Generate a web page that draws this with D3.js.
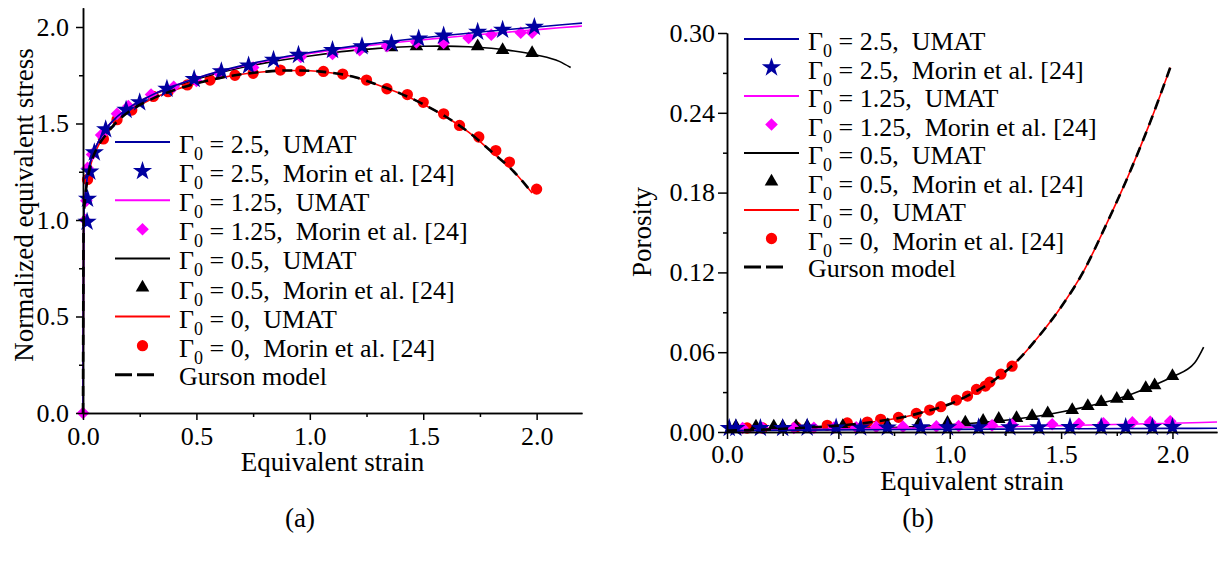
<!DOCTYPE html>
<html>
<head>
<meta charset="utf-8">
<script src="https://cdn.jsdelivr.net/npm/d3@7"></script>
<style>
  body { margin: 0; background: #fff; }
  text { font-family: "Liberation Serif", "Times New Roman", serif; fill: #000; }
</style>
</head>
<body>
<svg width="1224" height="564"></svg>
<script>
// ---- (a) normalized equivalent stress vs equivalent strain ----
const strainG25 = [0, 0.003, 0.01, 0.02, 0.04, 0.07, 0.1, 0.15, 0.2, 0.3, 0.4, 0.5, 0.6, 0.7, 0.8, 0.9, 1.0, 1.1, 1.2, 1.3, 1.4, 1.5, 1.6, 1.7, 1.8, 1.9, 2.0, 2.1, 2.2];
const stressG25 = [0, 1.0, 1.13, 1.23, 1.33, 1.41, 1.47, 1.535, 1.58, 1.645, 1.695, 1.735, 1.77, 1.80, 1.825, 1.848, 1.868, 1.886, 1.902, 1.917, 1.931, 1.944, 1.956, 1.968, 1.979, 1.99, 2.0, 2.01, 2.02];
const strainG125 = [0, 0.003, 0.01, 0.02, 0.04, 0.07, 0.1, 0.15, 0.2, 0.3, 0.4, 0.5, 0.6, 0.7, 0.8, 0.9, 1.0, 1.1, 1.2, 1.3, 1.4, 1.5, 1.6, 1.7, 1.8, 1.9, 2.0, 2.1, 2.2];
const stressG125 = [0, 1.0, 1.13, 1.23, 1.33, 1.41, 1.47, 1.535, 1.58, 1.645, 1.695, 1.735, 1.768, 1.797, 1.822, 1.844, 1.863, 1.880, 1.895, 1.909, 1.922, 1.934, 1.945, 1.956, 1.966, 1.976, 1.986, 1.996, 2.005];
const strainG05 = [0, 0.003, 0.01, 0.02, 0.04, 0.07, 0.1, 0.15, 0.2, 0.3, 0.4, 0.5, 0.6, 0.7, 0.8, 0.9, 1.0, 1.1, 1.2, 1.3, 1.4, 1.5, 1.6, 1.7, 1.8, 1.9, 2.0, 2.1, 2.15];
const stressG05 = [0, 1.0, 1.13, 1.23, 1.33, 1.41, 1.47, 1.535, 1.58, 1.645, 1.69, 1.73, 1.762, 1.79, 1.813, 1.833, 1.85, 1.866, 1.88, 1.889, 1.896, 1.90, 1.901, 1.898, 1.89, 1.876, 1.855, 1.822, 1.79];
const strainG0 = [0, 0.003, 0.01, 0.02, 0.04, 0.07, 0.1, 0.15, 0.2, 0.3, 0.4, 0.5, 0.6, 0.7, 0.8, 0.9, 1.0, 1.1, 1.2, 1.3, 1.4, 1.5, 1.6, 1.7, 1.8, 1.9, 1.98];
const stressG0 = [0, 1.0, 1.12, 1.21, 1.31, 1.39, 1.44, 1.51, 1.56, 1.625, 1.672, 1.708, 1.735, 1.755, 1.768, 1.775, 1.773, 1.762, 1.74, 1.70, 1.655, 1.60, 1.535, 1.455, 1.355, 1.25, 1.14];
const strainGurson = [0, 0.003, 0.01, 0.02, 0.04, 0.07, 0.1, 0.15, 0.2, 0.3, 0.4, 0.5, 0.6, 0.7, 0.8, 0.9, 1.0, 1.1, 1.2, 1.3, 1.4, 1.5, 1.6, 1.7, 1.8, 1.9, 1.98];
const stressGurson = [0, 1.0, 1.12, 1.21, 1.31, 1.39, 1.44, 1.51, 1.56, 1.625, 1.672, 1.708, 1.735, 1.755, 1.768, 1.775, 1.773, 1.762, 1.74, 1.70, 1.655, 1.60, 1.535, 1.455, 1.355, 1.25, 1.14];

// Morin et al. [24] points, panel (a)
const starStrainA = [0.018, 0.02, 0.03, 0.05, 0.10, 0.19, 0.25, 0.37, 0.49, 0.61, 0.73, 0.84, 0.95, 1.10, 1.23, 1.36, 1.48, 1.59, 1.74, 1.85, 1.99];
const starStressA = [0.99, 1.11, 1.25, 1.35, 1.47, 1.57, 1.61, 1.68, 1.73, 1.77, 1.80, 1.83, 1.855, 1.88, 1.90, 1.915, 1.94, 1.955, 1.975, 1.985, 2.0];
const diamondStrainA = [0, 0.01, 0.015, 0.02, 0.04, 0.08, 0.15, 0.2, 0.3, 0.4, 0.5, 0.6, 0.75, 0.96, 1.1, 1.22, 1.34, 1.47, 1.59, 1.70, 1.80, 1.93, 1.98];
const diamondStressA = [0, 1.0, 1.1, 1.27, 1.34, 1.44, 1.55, 1.59, 1.65, 1.69, 1.72, 1.76, 1.79, 1.845, 1.86, 1.88, 1.90, 1.92, 1.917, 1.943, 1.96, 1.97, 1.97];
const triangleStrainA = [1.23, 1.36, 1.47, 1.59, 1.74, 1.85, 1.98];
const triangleStressA = [1.89, 1.895, 1.90, 1.90, 1.90, 1.88, 1.865];
const circleStrainA = [0.02, 0.09, 0.15, 0.215, 0.31, 0.375, 0.46, 0.56, 0.67, 0.75, 0.87, 0.96, 1.06, 1.145, 1.25, 1.34, 1.43, 1.50, 1.59, 1.66, 1.745, 1.82, 1.88, 2.0];
const circleStressA = [1.21, 1.42, 1.52, 1.57, 1.64, 1.665, 1.70, 1.725, 1.75, 1.76, 1.777, 1.773, 1.77, 1.756, 1.725, 1.68, 1.65, 1.61, 1.55, 1.49, 1.43, 1.36, 1.30, 1.16];

// ---- (b) porosity vs equivalent strain ----
const poroStrainG25 = [0, 0.5, 1.0, 1.5, 2.0, 2.2];
const poroG25 = [0.001, 0.0016, 0.002, 0.0024, 0.0027, 0.0028];
const poroStrainG125 = [0, 0.5, 1.0, 1.5, 2.0, 2.2];
const poroG125 = [0.001, 0.0022, 0.0033, 0.0048, 0.0066, 0.0075];
const poroStrainG05 = [0, 0.2, 0.4, 0.6, 0.8, 1.0, 1.1, 1.2, 1.3, 1.4, 1.5, 1.6, 1.7, 1.8, 1.9, 2.0, 2.1, 2.14];
const poroG05 = [0.001, 0.0015, 0.002, 0.0028, 0.0038, 0.0055, 0.0066, 0.008, 0.0098, 0.012, 0.015, 0.0185, 0.0225, 0.0275, 0.034, 0.0415, 0.052, 0.0638];
const poroStrainG0 = [0, 0.1, 0.2, 0.3, 0.4, 0.5, 0.6, 0.7, 0.8, 0.9, 1.0, 1.1, 1.2, 1.3, 1.4, 1.5, 1.6, 1.7, 1.8, 1.9, 1.99];
const poroG0 = [0.001, 0.0015, 0.002, 0.0028, 0.0037, 0.0048, 0.0064, 0.0086, 0.0115, 0.0158, 0.021, 0.029, 0.039, 0.053, 0.072, 0.094, 0.1205, 0.155, 0.192, 0.233, 0.274];
const poroStrainGurson = [0, 0.1, 0.2, 0.3, 0.4, 0.5, 0.6, 0.7, 0.8, 0.9, 1.0, 1.1, 1.2, 1.3, 1.4, 1.5, 1.6, 1.7, 1.8, 1.9, 1.99];
const poroGurson = [0.001, 0.0015, 0.002, 0.0028, 0.0037, 0.0048, 0.0064, 0.0086, 0.0115, 0.0158, 0.021, 0.029, 0.039, 0.053, 0.072, 0.094, 0.1205, 0.155, 0.192, 0.233, 0.274];

// Morin et al. [24] points, panel (b)
const starStrainB = [0.01, 0.04, 0.15, 0.25, 0.36, 0.49, 0.6, 0.72, 0.87, 0.99, 1.13, 1.27, 1.40, 1.54, 1.68, 1.79, 1.91, 2.0];
const starPoroB = [0.003, 0.003, 0.003, 0.003, 0.0032, 0.0032, 0.0033, 0.0033, 0.0034, 0.0034, 0.0035, 0.0035, 0.0035, 0.0036, 0.0036, 0.0036, 0.0037, 0.0037];
const diamondStrainB = [0.07, 0.16, 0.30, 0.39, 0.48, 0.58, 0.67, 0.79, 0.94, 1.04, 1.19, 1.28, 1.46, 1.58, 1.69, 1.82, 1.90, 1.99];
const diamondPoroB = [0.003, 0.003, 0.003, 0.0032, 0.0034, 0.0036, 0.0038, 0.004, 0.0042, 0.0045, 0.005, 0.0055, 0.0058, 0.0062, 0.0065, 0.0072, 0.0076, 0.008];
const triangleStrainB = [0.04, 0.13, 0.21, 0.25, 0.31, 0.36, 0.52, 0.72, 0.86, 0.99, 1.07, 1.15, 1.22, 1.30, 1.37, 1.44, 1.55, 1.62, 1.68, 1.75, 1.80, 1.88, 1.92, 2.0];
const trianglePoroB = [0.004, 0.004, 0.004, 0.004, 0.0042, 0.0042, 0.0045, 0.005, 0.0055, 0.0068, 0.007, 0.0083, 0.0098, 0.0105, 0.012, 0.014, 0.0165, 0.0195, 0.0225, 0.025, 0.027, 0.033, 0.035, 0.042];
const circleStrainB = [0.09, 0.16, 0.31, 0.45, 0.54, 0.63, 0.69, 0.77, 0.85, 0.91, 0.96, 1.03, 1.08, 1.12, 1.16, 1.18, 1.23, 1.28];
const circlePoroB = [0.003, 0.003, 0.0038, 0.005, 0.0068, 0.0075, 0.0095, 0.011, 0.014, 0.0165, 0.019, 0.024, 0.027, 0.032, 0.0345, 0.0375, 0.0435, 0.0495];

// ticks
const strainTicks = [0, 0.5, 1.0, 1.5, 2.0];
const strainMinor = [0.25, 0.75, 1.25, 1.75];
const stressTicks = [0, 0.5, 1.0, 1.5, 2.0];
const stressMinor = [0.25, 0.75, 1.25, 1.75];
const poroTicks = [0, 0.06, 0.12, 0.18, 0.24, 0.30];
const poroMinor = [0.03, 0.09, 0.15, 0.21, 0.27];

// legend labels
const gammaValues = ["2.5", "2.5", "1.25", "1.25", "0.5", "0.5", "0", "0"];
const sourceNames = ["UMAT", "Morin et al. [24]", "UMAT", "Morin et al. [24]", "UMAT", "Morin et al. [24]", "UMAT", "Morin et al. [24]"];

const NAVY = "#0000a0", MAGENTA = "#ff00ff", RED = "#ff0000", BLACK = "#000";
const SERIF = '"Liberation Serif", "Times New Roman", serif';
const svg = d3.select("svg");

const symbols = {
  star: { path: d3.symbol(d3.symbolStar, 115)(), rot: 0 },
  diamond: { path: d3.symbol(d3.symbolSquare, 80)(), rot: 45 },
  triangle: { path: d3.symbol(d3.symbolTriangle, 80)(), rot: 0 },
  circle: { path: d3.symbol(d3.symbolCircle, 100)(), rot: 0 }
};

function styleAxis(sel, fs) {
  sel.attr("font-family", SERIF).attr("font-size", fs);
  sel.selectAll("text").style("font-family", SERIF).style("font-size", fs + "px");
  sel.selectAll("line").attr("stroke", "#000").attr("stroke-width", 1.5);
  sel.select(".domain").attr("stroke", "#000").attr("stroke-width", 1.5);
}

function panel(cfg) {
  const x = d3.scaleLinear().domain([0, 2.2]).range(cfg.xRange);
  const y = d3.scaleLinear().domain(cfg.yDomain).range(cfg.yRange);
  const g = svg.append("g");

  const line = d3.line().x(d => x(d[0])).y(d => y(d[1])).curve(d3.curveMonotoneX);

  // series
  cfg.series.forEach(s => {
    const pts = d3.zip(s.x, s.y);
    if (s.kind === "line") {
      g.append("path").datum(pts)
        .attr("d", line)
        .attr("fill", "none")
        .attr("stroke", s.color)
        .attr("stroke-width", s.dash ? 2.6 : 1.6)
        .attr("stroke-dasharray", s.dash || null);
    } else {
      const sym = symbols[s.kind];
      g.append("g").selectAll("path").data(pts).join("path")
        .attr("d", sym.path)
        .attr("transform", d => `translate(${x(d[0])},${y(d[1])}) rotate(${sym.rot})`)
        .attr("fill", s.color);
    }
  });

  // axes
  const xa = g.append("g").attr("transform", `translate(0,${cfg.yRange[0]})`)
    .call(d3.axisBottom(x).tickValues(strainTicks).tickFormat(d3.format(".1f"))
      .tickSize(7).tickPadding(cfg.xPad).tickSizeOuter(0));
  styleAxis(xa, 26);
  const xm = g.append("g").attr("transform", `translate(0,${cfg.yRange[0]})`)
    .call(d3.axisBottom(x).tickValues(strainMinor).tickFormat("").tickSize(4).tickSizeOuter(0));
  styleAxis(xm, 26);

  const ya = g.append("g").attr("transform", `translate(${cfg.xRange[0]},0)`)
    .call(d3.axisLeft(y).tickValues(cfg.yTicks).tickFormat(d3.format(cfg.yFmt))
      .tickSize(cfg.yTick).tickPadding(cfg.yPad).tickSizeOuter(0));
  styleAxis(ya, 26);
  const ym = g.append("g").attr("transform", `translate(${cfg.xRange[0]},0)`)
    .call(d3.axisLeft(y).tickValues(cfg.yMinor).tickFormat("").tickSize(4).tickSizeOuter(0));
  styleAxis(ym, 26);

  // titles
  svg.append("text")
    .attr("x", (cfg.xRange[0] + cfg.xRange[1]) / 2).attr("y", cfg.xTitleY)
    .attr("text-anchor", "middle").style("font-size", "27px")
    .text("Equivalent strain");
  svg.append("text")
    .attr("transform", `translate(${cfg.yTitleX},${cfg.yTitleY}) rotate(-90)`)
    .attr("text-anchor", "middle").style("font-size", "27px")
    .text(cfg.yTitle);
  svg.append("text")
    .attr("x", cfg.tag[0]).attr("y", cfg.tag[1])
    .attr("text-anchor", "middle").style("font-size", "27px")
    .text(cfg.tag[2]);

  // legend
  const lg = svg.append("g").attr("transform", `translate(${cfg.legend[0]},${cfg.legend[1]})`);
  const kinds = ["line", "star", "line", "diamond", "line", "triangle", "line", "circle"];
  const colors = [NAVY, NAVY, MAGENTA, MAGENTA, BLACK, BLACK, RED, RED];
  const step = cfg.legend[2];
  kinds.forEach((k, i) => {
    const row = lg.append("g").attr("transform", `translate(0,${i * step})`);
    if (k === "line") {
      row.append("line").attr("x1", 0).attr("x2", 55).attr("y1", 0).attr("y2", 0)
        .attr("stroke", colors[i]).attr("stroke-width", 2);
    } else {
      const sym = symbols[k];
      row.append("path").attr("d", sym.path)
        .attr("transform", `translate(27.5,0) rotate(${sym.rot})`)
        .attr("fill", colors[i]);
    }
    const t = row.append("text").attr("x", 64).attr("y", 11).style("font-size", "26px");
    t.append("tspan").text("Γ");
    t.append("tspan").attr("dy", 7).style("font-size", "18px").text("0");
    t.append("tspan").attr("dy", -7).text(` = ${gammaValues[i]},\u00a0 ${sourceNames[i]}`);
  });
  const gr = lg.append("g").attr("transform", `translate(0,${8 * step})`);
  gr.append("line").attr("x1", 0).attr("x2", 39).attr("y1", 0).attr("y2", 0)
    .attr("stroke", BLACK).attr("stroke-width", 3).attr("stroke-dasharray", "17,5");
  gr.append("text").attr("x", 64).attr("y", 10).style("font-size", "26px").text("Gurson model");
}

panel({
  xRange: [83, 582], yDomain: [0, 2.1], yRange: [413, 7.7],
  yTicks: stressTicks, yMinor: stressMinor, yFmt: ".1f", yTick: 7, yPad: 7, xPad: 7,
  xTitleY: 471, yTitleX: 33, yTitleY: 205, yTitle: "Normalized equivalent stress",
  tag: [300, 527, "(a)"], legend: [115, 142, 29.1],
  series: [
    { kind: "line", x: strainG0, y: stressG0, color: RED },
    { kind: "circle", x: circleStrainA, y: circleStressA, color: RED },
    { kind: "line", x: strainG05, y: stressG05, color: BLACK },
    { kind: "triangle", x: triangleStrainA, y: triangleStressA, color: BLACK },
    { kind: "line", x: strainG125, y: stressG125, color: MAGENTA },
    { kind: "diamond", x: diamondStrainA, y: diamondStressA, color: MAGENTA },
    { kind: "line", x: strainG25, y: stressG25, color: NAVY },
    { kind: "star", x: starStrainA, y: starStressA, color: NAVY },
    { kind: "line", x: strainGurson, y: stressGurson, color: BLACK, dash: "10,7" }
  ]
});

panel({
  xRange: [727, 1217], yDomain: [0, 0.30], yRange: [432, 33],
  yTicks: poroTicks, yMinor: poroMinor, yFmt: ".2f", yTick: 9, yPad: 3, xPad: 6,
  xTitleY: 490, yTitleX: 651, yTitleY: 232, yTitle: "Porosity",
  tag: [918, 527, "(b)"], legend: [744, 39, 28.5],
  series: [
    { kind: "line", x: poroStrainG0, y: poroG0, color: RED },
    { kind: "circle", x: circleStrainB, y: circlePoroB, color: RED },
    { kind: "line", x: poroStrainG05, y: poroG05, color: BLACK },
    { kind: "triangle", x: triangleStrainB, y: trianglePoroB, color: BLACK },
    { kind: "line", x: poroStrainG125, y: poroG125, color: MAGENTA },
    { kind: "diamond", x: diamondStrainB, y: diamondPoroB, color: MAGENTA },
    { kind: "line", x: poroStrainG25, y: poroG25, color: NAVY },
    { kind: "star", x: starStrainB, y: starPoroB, color: NAVY },
    { kind: "line", x: poroStrainGurson, y: poroGurson, color: BLACK, dash: "10,7" }
  ]
});
</script>
</body>
</html>
